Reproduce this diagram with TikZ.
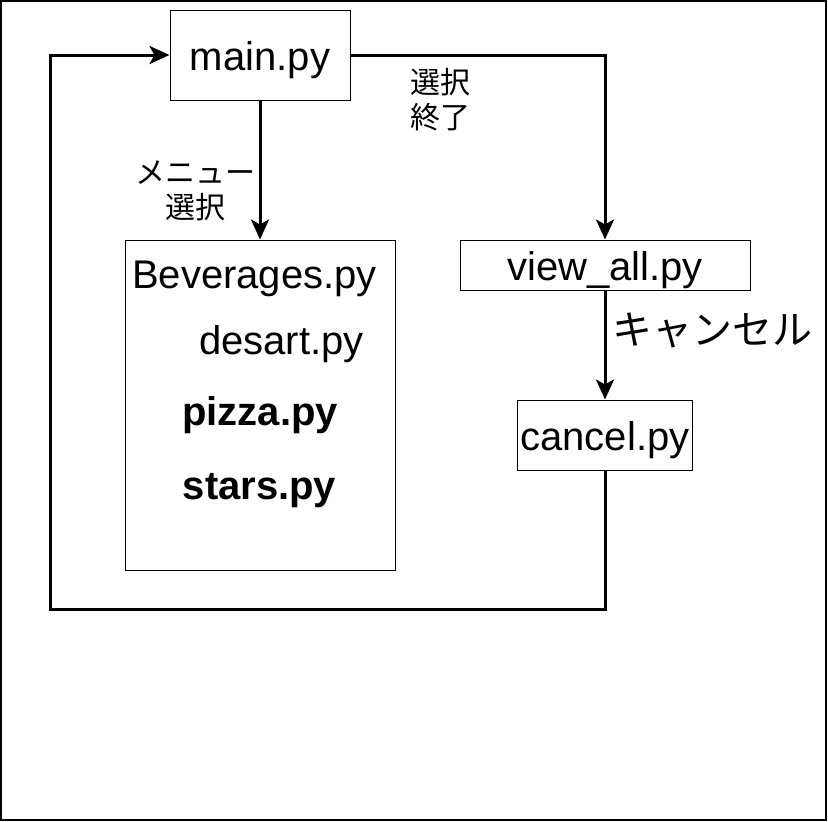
\documentclass[tikz,border=0pt]{standalone}
\usepackage{fontspec}
\setmainfont{Liberation Sans}
\newfontfamily\jpfont{Noto Sans CJK JP}
\usetikzlibrary{arrows.meta}
\begin{document}
\begin{tikzpicture}[x=0.5pt, y=-0.5pt,
          every node/.style = {inner sep=0pt, align=center, font=\fontsize{20}{24}\selectfont},
          filebox/.style = {shape=rectangle, draw, line width=0.5pt, text height=17pt, text depth=1.6pt},
          flow/.style = {line width=1.5pt, -{Stealth[length=10pt, width=9pt, inset=2.5pt]}},
          jplabel/.style = {font=\jpfont\fontsize{15}{17.5}\selectfont}]
          \useasboundingbox (0,0) rectangle (828,821);
          \draw[line width=1pt] (1,1) rectangle (826,820);
          \node[filebox, minimum width=90pt, minimum height=45pt] (main) at (260,55) {main.py};
          \node[filebox, minimum width=135pt, minimum height=165pt] (menu) at (260,405) {};
          \node[anchor=base] (bev) at (254.5,288) {Beverages.py};
          \node[anchor=base] (desart) at (281.5,354) {desart.py};
          \node[anchor=base, font=\fontsize{20}{24}\selectfont\bfseries] (pizza) at (260,425) {pizza.py};
          \node[anchor=base, font=\fontsize{20}{24}\selectfont\bfseries] (stars) at (259.5,499) {stars.py};
          \node[filebox, minimum width=145pt, minimum height=25pt] (view) at (605,265) {view\_all.py};
          \node[filebox, minimum width=87.5pt, minimum height=35pt] (cancel) at (605,435) {cancel.py};
          \coordinate (loop) at (50,609);
          \draw[flow] (main.south) -- (menu.north);
          \draw[flow] (main.east) -| (view.north);
          \draw[flow] (view.south) -- (cancel.north);
          \draw[flow] (cancel.south) |- (loop) |- (main.west);
          \node[jplabel] (menulbl) at (195,191) {メニュー\\選択};
          \node[jplabel, anchor=west, align=left] (endlbl) at (410,100) {選択\\終了};
          \node[font=\jpfont\fontsize{20}{24}\selectfont] (cancellbl) at (712,330) {キャンセル};
\end{tikzpicture}
\end{document}
